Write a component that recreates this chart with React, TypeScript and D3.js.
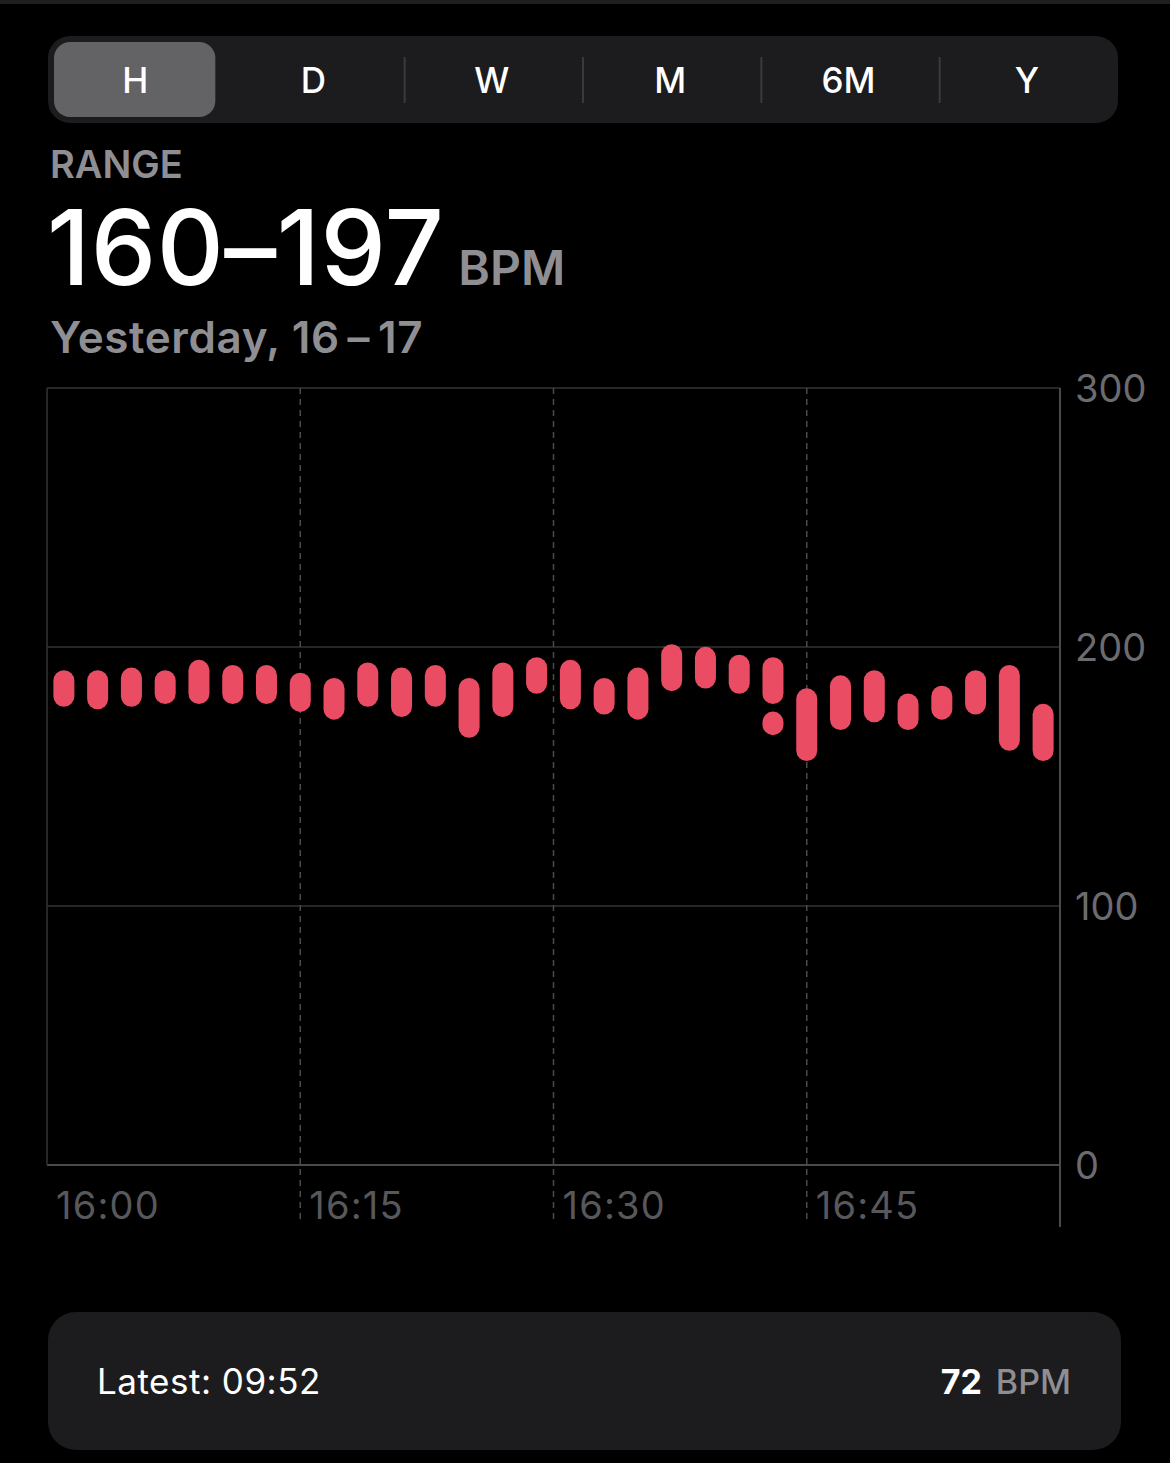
import React, { useEffect, useRef } from 'react';
import * as d3 from 'd3';

// heart-rate ranges, one capsule every two minutes (16:01 ... 16:59)
const minutes = [1, 3, 5, 7, 9, 11, 13, 15, 17, 19, 21, 23, 25, 27, 29, 31, 33, 35, 37, 39, 41, 43, 45, 47, 49, 51, 53, 55, 57, 59];
const highs = [187, 187, 188, 187, 191, 189, 189, 186, 184, 190, 188, 189, 184, 190, 192, 191, 184, 188, 197, 196, 193, 192, 180, 185, 187, 178, 181, 187, 189, 174];
const lows = [181, 180, 181, 182, 182, 182, 182, 179, 176, 181, 177, 181, 169, 177, 186, 180, 178, 176, 187, 188, 186, 182, 160, 172, 175, 172, 176, 178, 164, 160];
// second reading block in the same slot
const extraMinutes = [43];
const extraHighs = [171];
const extraLows = [170];

const yTicks = [0, 100, 200, 300];
const xTickMinutes = [0, 15, 30, 45];
const periods = ['H', 'D', 'W', 'M', '6M', 'Y'];

const W = 1170;
const H = 1463;
const FONT = 'Inter, "Noto Sans", sans-serif';
const GRAY = '#8e8e93';
const RED = '#ea4c64';

const at = (m: number) => new Date(2024, 0, 1, 16, m);

const App: React.FC = () => {
  const svgRef = useRef<SVGSVGElement | null>(null);

  useEffect(() => {
    document.body.style.margin = '0';
    document.body.style.background = '#000';
    if (!svgRef.current) return;
    const svg = d3.select(svgRef.current);
    svg.selectAll('*').remove();

    const left = 47, right = 1060, top = 388, bottom = 1165;
    const x = d3.scaleTime().domain([at(0), at(60)]).range([left, right]);
    const y = d3.scaleLinear().domain([0, 300]).range([bottom, top]);

    svg.append('rect').attr('width', W).attr('height', H).attr('fill', '#000');
    svg.append('rect').attr('width', W).attr('height', 4).attr('fill', '#1f1f21');

    // segmented control
    const segX = d3.scaleBand<string>().domain(periods).range([48, 1118]);
    const seg = svg.append('g');
    seg.append('rect').attr('x', 48).attr('y', 36).attr('width', 1070).attr('height', 87)
      .attr('rx', 22).attr('fill', '#1c1c1e');
    seg.append('rect').attr('x', 54).attr('y', 42).attr('width', segX.bandwidth() - 17).attr('height', 75)
      .attr('rx', 16).attr('fill', '#636366');
    seg.selectAll('line.sep').data(periods.slice(2)).join('line')
      .attr('x1', d => segX(d)!).attr('x2', d => segX(d)!)
      .attr('y1', 57).attr('y2', 103)
      .attr('stroke', '#3a3a3c').attr('stroke-width', 2);
    seg.selectAll('text').data(periods).join('text')
      .attr('x', d => segX(d)! + segX.bandwidth() / 2 - 2)
      .attr('y', 93)
      .attr('text-anchor', 'middle')
      .attr('font-family', FONT).attr('font-size', 35).attr('font-weight', 500)
      .attr('fill', '#fff')
      .text(d => d);

    // header
    svg.append('text').attr('x', 50).attr('y', 178)
      .attr('font-family', FONT).attr('font-size', 38).attr('font-weight', 600)
      .attr('fill', GRAY).text('RANGE');
    const big = svg.append('text').attr('x', 47).attr('y', 285).attr('font-family', FONT);
    big.append('tspan').attr('font-size', 104).attr('font-weight', 500).attr('fill', '#fff')
      .attr('letter-spacing', 0.5).text('160–197');
    big.append('tspan').attr('dx', 14).attr('font-size', 48).attr('font-weight', 600)
      .attr('fill', GRAY).text('BPM');
    svg.append('text').attr('x', 50).attr('y', 353)
      .attr('font-family', FONT).attr('font-size', 44).attr('font-weight', 600)
      .attr('letter-spacing', 0.6)
      .attr('fill', GRAY).text('Yesterday, 16\u2009–\u200917');

    // grid
    const grid = svg.append('g');
    grid.selectAll('line.h').data(yTicks.filter(d => d > 0)).join('line')
      .attr('x1', left).attr('x2', right)
      .attr('y1', d => y(d)).attr('y2', d => y(d))
      .attr('stroke', '#333335').attr('stroke-width', 1.5);
    grid.append('line').attr('x1', left).attr('x2', right).attr('y1', bottom).attr('y2', bottom)
      .attr('stroke', '#4a4a4c').attr('stroke-width', 2);
    grid.append('line').attr('x1', left).attr('x2', left).attr('y1', top).attr('y2', bottom)
      .attr('stroke', '#333335').attr('stroke-width', 1.5);
    grid.append('line').attr('x1', right).attr('x2', right).attr('y1', top).attr('y2', 1227)
      .attr('stroke', '#4a4a4c').attr('stroke-width', 2);
    grid.selectAll('line.v').data(xTickMinutes.slice(1)).join('line')
      .attr('x1', d => x(at(d))).attr('x2', d => x(at(d)))
      .attr('y1', top).attr('y2', 1222)
      .attr('stroke', '#4a4a4c').attr('stroke-width', 1.5)
      .attr('stroke-dasharray', '6 5');

    // axis labels
    svg.append('g').selectAll('text').data(yTicks).join('text')
      .attr('x', 1075).attr('y', d => y(d)).attr('dy', '0.36em')
      .attr('font-family', FONT).attr('font-size', 38).attr('fill', '#6c6c70')
      .text(d => d);
    svg.append('g').selectAll('text').data(xTickMinutes).join('text')
      .attr('x', d => x(at(d)) + 9).attr('y', 1219)
      .attr('font-family', FONT).attr('font-size', 38).attr('fill', '#58585c')
      .attr('letter-spacing', 1.2)
      .text(d => d3.timeFormat('%H:%M')(at(d)));

    // capsules
    const bars = minutes.map((m, i) => ({ m, hi: highs[i], lo: lows[i] }))
      .concat(extraMinutes.map((m, i) => ({ m, hi: extraHighs[i], lo: extraLows[i] })));
    svg.append('g').selectAll('line').data(bars).join('line')
      .attr('x1', d => x(at(d.m))).attr('x2', d => x(at(d.m)))
      .attr('y1', d => y(d.hi)).attr('y2', d => y(d.lo))
      .attr('stroke', RED).attr('stroke-width', 21).attr('stroke-linecap', 'round');

    // latest card
    svg.append('rect').attr('x', 48).attr('y', 1312).attr('width', 1073).attr('height', 138)
      .attr('rx', 28).attr('fill', '#1c1c1e');
    svg.append('text').attr('x', 97).attr('y', 1394)
      .attr('font-family', FONT).attr('font-size', 35).attr('fill', '#fff')
      .attr('letter-spacing', 0.5)
      .text('Latest: 09:52');
    const latest = svg.append('text').attr('x', 1071).attr('y', 1394)
      .attr('text-anchor', 'end').attr('font-family', FONT).attr('font-size', 34);
    latest.append('tspan').attr('font-weight', 700).attr('fill', '#fff').text('72');
    latest.append('tspan').attr('dx', 14).attr('font-weight', 500).attr('fill', GRAY).text('BPM');
  }, []);

  return (
    <svg ref={svgRef} width={W} height={H}
      style={{ position: 'absolute', left: 0, top: 0, display: 'block', background: '#000' }} />
  );
};

export default App;
